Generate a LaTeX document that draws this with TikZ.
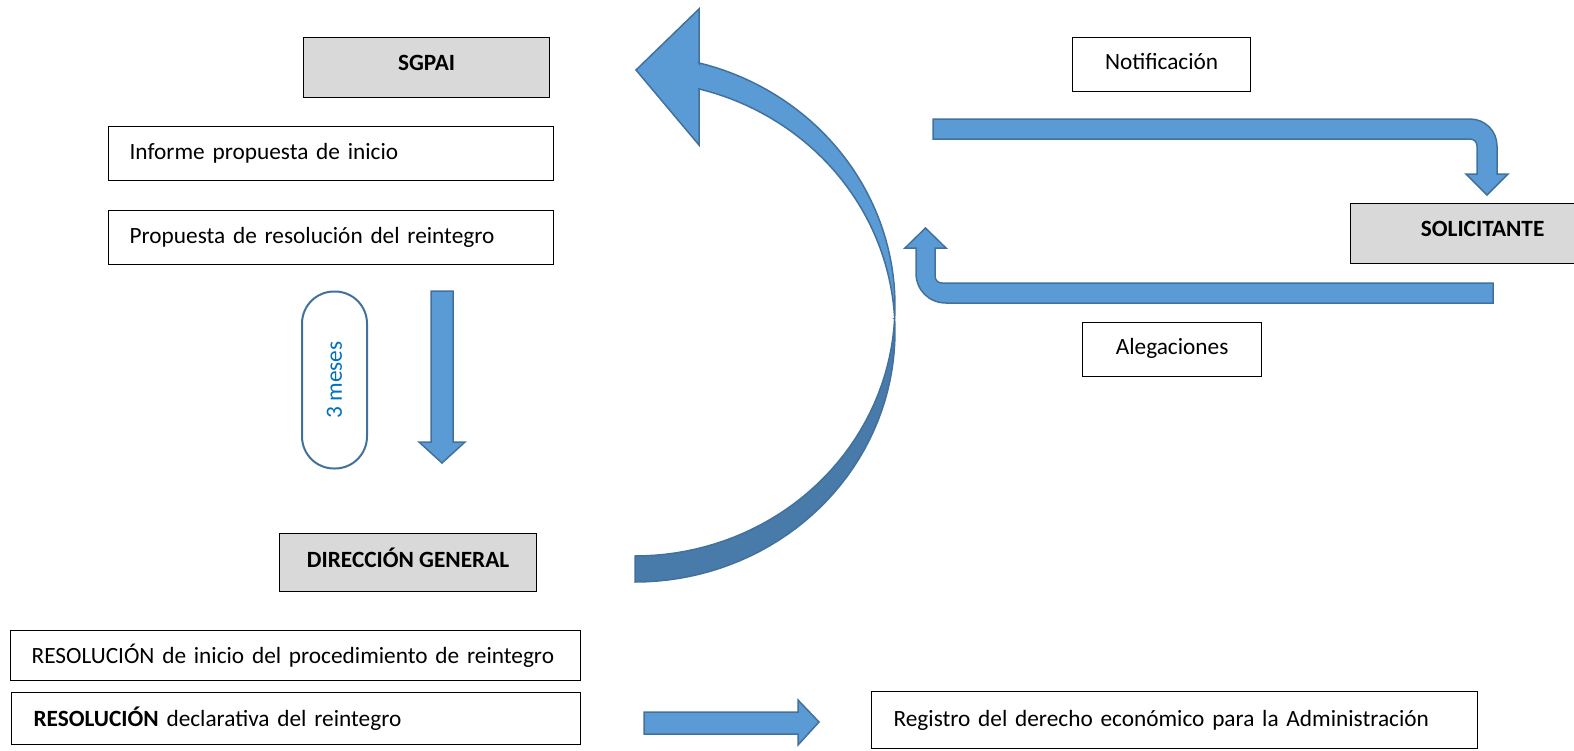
\documentclass[tikz,border=0pt]{standalone}
\usepackage{fontspec}
\setmainfont{Carlito}
\usetikzlibrary{positioning}
\definecolor{arrowblue}{RGB}{91,155,213}
\definecolor{arrowdark}{RGB}{72,122,170}
\definecolor{edgeblue}{RGB}{65,113,156}
\definecolor{textblue}{RGB}{0,112,192}
\definecolor{boxgray}{RGB}{217,217,217}

\begin{document}
\begin{tikzpicture}[x=0.5pt,y=-0.5pt,
  every node/.style={font=\fontsize{11.65}{14}\selectfont},
  textbox/.style={rectangle,draw,line width=0.6pt,anchor=north west,align=left,inner ysep=0pt},
  headbox/.style={rectangle,draw,line width=0.6pt,anchor=north west,fill=boxgray,text height=8pt,text depth=5pt,font=\fontsize{11.65}{14}\selectfont\bfseries},
  plainbox/.style={rectangle,draw,line width=0.6pt,anchor=north west,text height=8pt,text depth=3pt},
  blockarrow/.style={fill=arrowblue,draw=edgeblue,line width=0.75pt,line join=miter}]
 \clip (0,0) rectangle (1574,750);

 \node[headbox,minimum width=123pt,minimum height=30pt] (sgpai) at (303,37) {SGPAI};
 \node[textbox,minimum width=222.5pt,minimum height=27pt,text width=201.5pt,inner xsep=10.5pt] (informe) at (108,126) {Informe propuesta de inicio};
 \node[textbox,minimum width=222.5pt,minimum height=27pt,text width=201.5pt,inner xsep=10.5pt] (propuesta) at (108,210) {Propuesta de resoluci\'on del reintegro};
 \node[rectangle,draw=edgeblue,line width=1pt,rounded corners=16pt,rotate=90,minimum width=88.5pt,minimum height=32.5pt,text=textblue] (meses) at (334.5,380) {3 meses};
 \node[headbox,minimum width=128.5pt,minimum height=29pt,text depth=3.5pt] (direccion) at (279,533) {DIRECCI\'ON GENERAL};
 \node[textbox,minimum width=285pt,minimum height=25pt,text width=264pt,inner xsep=10.5pt] (resinicio) at (10,630) {RESOLUCI\'ON de inicio del procedimiento de reintegro};
 \node[textbox,minimum width=284.5pt,minimum height=26pt,text width=262.5pt,inner xsep=11pt] (resdecl) at (11,692) {\textbf{RESOLUCI\'ON} declarativa del reintegro};
 \node[textbox,minimum width=303pt,minimum height=28.5pt,text width=281pt,inner xsep=11pt] (registro) at (871,691) {Registro del derecho econ\'omico para la Administraci\'on};
 \node[plainbox,minimum width=89pt,minimum height=27pt] (notificacion) at (1072,37) {Notificaci\'on};
 \node[headbox,minimum width=132pt,minimum height=30pt] (solicitante) at (1350,203) {SOLICITANTE};
 \node[plainbox,minimum width=89.5pt,minimum height=27pt] (alegaciones) at (1082,322) {Alegaciones};

 % down arrow and right arrow
 \draw[blockarrow] (431,291) -- (453,291) -- (453,442) -- (465,442) -- (442,463) -- (419,442) -- (431,442) -- cycle;
 \draw[blockarrow] (644,712) -- (798,712) -- (798,700) -- (819,722) -- (798,745) -- (798,734) -- (644,734) -- cycle;

 % notificacion arrow
 \draw[blockarrow] (933,119) -- (1470,119) .. controls (1485,119) and (1497,131) .. (1497,146)
   -- (1497,174) -- (1508,174) -- (1487,195) -- (1466,174) -- (1477,174) -- (1477,146)
   .. controls (1477,142) and (1474,139) .. (1470,139) -- (933,139) -- cycle;
 % alegaciones arrow
 \draw[blockarrow] (1493,303) -- (946,303) .. controls (929,303) and (916,290) .. (916,273)
   -- (916,248) -- (905,248) -- (925.5,228) -- (946,248) -- (935,248) -- (935,276)
   .. controls (935,280) and (938,283) .. (942,283) -- (1493,283) -- cycle;

 % curved arrow: two equal ellipses, one 26px below the other
 \draw[blockarrow,fill=arrowdark] (894.6,318.6)
   -- plot[domain=2.98:-90,samples=40,variable=\t] ({635+260*cos(\t)},{331.6-250.4*sin(\t)})
   -- (635,556)
   -- plot[domain=-90:-2.98,samples=40,variable=\t] ({635+260*cos(\t)},{305.6-250.4*sin(\t)}) -- cycle;
 \draw[blockarrow] (699,89) -- (699,145) -- (636,70) -- (699,9) -- (699,63)
   -- plot[domain=75.76:-2.98,samples=40,variable=\t] ({635+260*cos(\t)},{305.6-250.4*sin(\t)})
   -- plot[domain=2.98:75.76,samples=40,variable=\t] ({635+260*cos(\t)},{331.6-250.4*sin(\t)}) -- cycle;
\end{tikzpicture}
\end{document}
